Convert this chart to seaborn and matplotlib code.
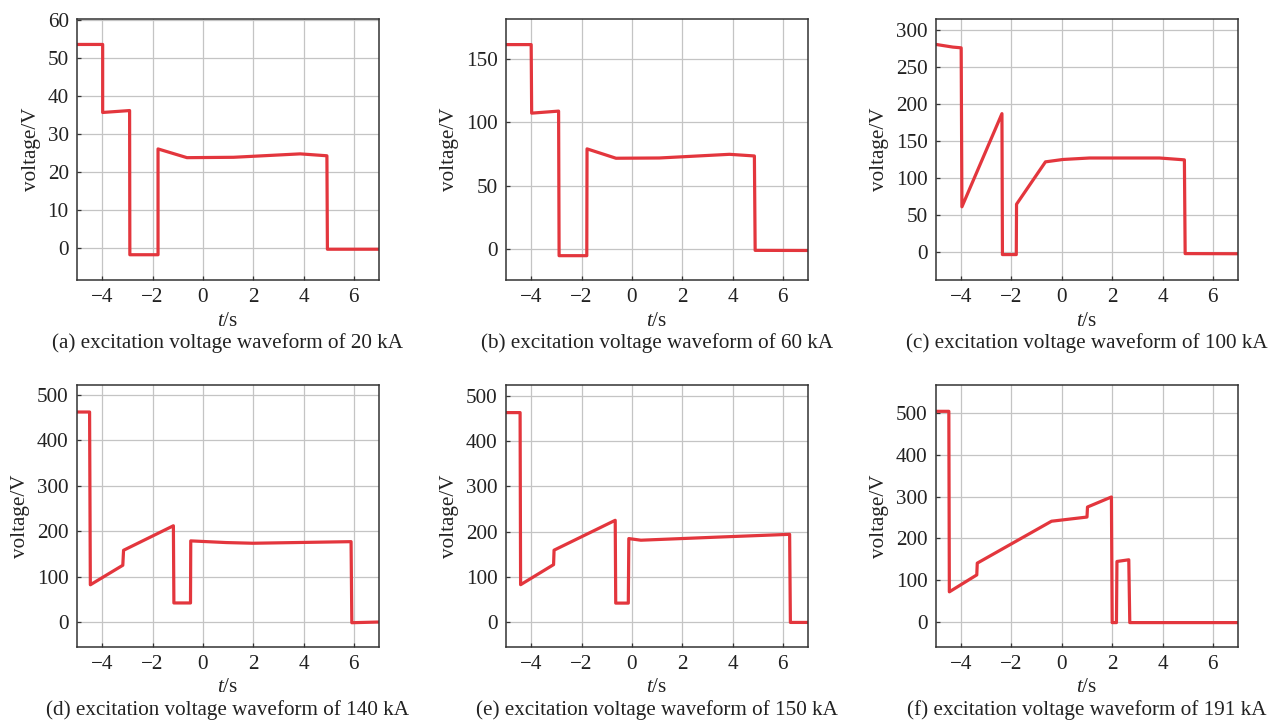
import numpy as np
import pandas as pd
import matplotlib
matplotlib.use("Agg")
import matplotlib.pyplot as plt
import seaborn as sns

# ---- data ----
t_a = [-5.0, -3.98, -3.98, -2.91, -2.90, -1.78, -1.78, -0.63, 1.22, 3.87, 4.93, 4.95, 7.0]
v_a = [53.6, 53.6, 35.7, 36.2, -1.75, -1.75, 26.1, 23.8, 23.9, 24.8, 24.3, -0.3, -0.3]

t_b = [-5.0, -4.0, -3.98, -2.91, -2.89, -1.79, -1.78, -0.63, 1.09, 3.88, 4.87, 4.90, 7.0]
v_b = [161.3, 161.3, 107.2, 108.8, -5.3, -5.3, 79.0, 71.6, 71.8, 74.7, 73.4, -1.1, -1.2]

t_c = [-5.0, -4.33, -4.0, -3.97, -2.38, -2.36, -1.81, -1.80, -0.65, 0.04, 1.1, 3.88, 4.87, 4.90, 7.0]
v_c = [280.6, 277.0, 276.0, 61.0, 187.0, -3.6, -3.6, 64.5, 121.8, 125.0, 127.0, 127.0, 124.5, -2.3, -2.5]

t_d = [-5.0, -4.50, -4.47, -3.18, -3.15, -1.17, -1.15, -0.49, -0.48, 0.93, 1.99, 5.89, 5.92, 7.0]
v_d = [462.5, 462.5, 82.0, 125.0, 158.0, 212.0, 42.0, 42.0, 178.7, 175.0, 173.5, 177.0, -1.5, 0.0]

t_e = [-5.0, -4.44, -4.42, -3.11, -3.09, -0.66, -0.64, -0.14, -0.12, 0.36, 3.48, 6.27, 6.30, 7.0]
v_e = [463.0, 463.0, 82.7, 127.0, 159.0, 225.0, 42.0, 42.0, 184.6, 181.0, 188.0, 194.0, -0.7, -0.7]

t_f = [-5.0, -4.49, -4.47, -3.38, -3.36, -0.41, 1.0, 1.02, 1.97, 2.0, 2.17, 2.19, 2.66, 2.70, 7.0]
v_f = [504.0, 504.0, 72.0, 112.5, 140.7, 241.0, 251.0, 275.0, 299.0, -1.6, -1.6, 144.7, 148.7, -1.6, -1.6]

captions = [
    "(a) excitation voltage waveform of 20 kA",
    "(b) excitation voltage waveform of 60 kA",
    "(c) excitation voltage waveform of 100 kA",
    "(d) excitation voltage waveform of 140 kA",
    "(e) excitation voltage waveform of 150 kA",
    "(f) excitation voltage waveform of 191 kA",
]
series = [(t_a, v_a), (t_b, v_b), (t_c, v_c), (t_d, v_d), (t_e, v_e), (t_f, v_f)]
ylims = [(-8.4, 60.3), (-24.5, 181.5), (-38, 315), (-55, 522), (-55, 524), (-60, 567)]
yticks = [np.arange(0, 61, 10), np.arange(0, 151, 50), np.arange(0, 301, 50),
          np.arange(0, 501, 100), np.arange(0, 501, 100), np.arange(0, 501, 100)]
xticks = [-4, -2, 0, 2, 4, 6]

sns.set_theme(style="whitegrid")
plt.rcParams['font.family'] = ['Liberation Serif', 'DejaVu Serif']
plt.rcParams['mathtext.fontset'] = 'custom'
plt.rcParams['mathtext.it'] = 'Liberation Serif:italic'
plt.rcParams['mathtext.rm'] = 'Liberation Serif'

W, H = 1271, 722
fig = plt.figure(figsize=(W / 100, H / 100), dpi=100)

lefts = [77, 506, 936]
rows = [(19, 280), (385, 647)]
FS = 15.2
line_color = "#e3363d"

for i, (t, v) in enumerate(series):
    r, c = divmod(i, 3)
    top, bot = rows[r]
    l = lefts[c]
    ax = fig.add_axes([l / W, 1 - bot / H, 302 / W, (bot - top) / H])
    df = pd.DataFrame({"t": t, "v": v})
    sns.lineplot(data=df, x="t", y="v", ax=ax, sort=False, estimator=None,
                 color=line_color, linewidth=2.3)
    ax.set_xlim(-5, 7)
    ax.set_ylim(*ylims[i])
    ax.set_xticks(xticks)
    ax.set_yticks(yticks[i])
    ax.grid(True, color="#c4c4c4", linewidth=0.9)
    ax.set_facecolor("white")
    for s in ax.spines.values():
        s.set_visible(True)
        s.set_color("#333333")
        s.set_linewidth(1.1)
    ax.tick_params(axis="both", direction="in", length=3, width=0.9, color="#333333",
                   labelsize=FS, labelcolor="#222222", pad=6)
    ax.tick_params(axis="x", bottom=True, top=False)
    ax.tick_params(axis="y", left=True, right=False)
    ax.set_xlabel(r"$t$/s", fontsize=FS, color="#222222", labelpad=3)
    ax.set_ylabel("voltage/V", fontsize=FS, color="#222222", labelpad=5)
    cx = (l + 151) / W
    cy = 1 - (343 if r == 0 else 710) / H
    fig.text(cx, cy, captions[i], ha="center", va="center", fontsize=FS, color="#222222")

fig.savefig("out.png", dpi=100, facecolor="white")
